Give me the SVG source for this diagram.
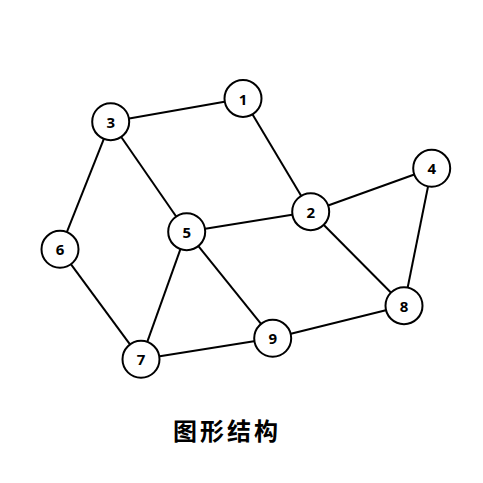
<svg xmlns="http://www.w3.org/2000/svg" width="483" height="483" viewBox="0 0 483 483">
<style>
.edge{stroke:#000;stroke-width:2;fill:none}
.node circle{fill:#fff;stroke:#000;stroke-width:2}
.node text{font-family:"Open Sans","DejaVu Sans",sans-serif;font-weight:bold;font-size:15px;text-anchor:middle;dominant-baseline:central;fill:#000}
.title{font-family:"Noto Sans CJK SC",sans-serif;font-weight:bold;font-size:24px;text-anchor:middle;fill:#000;letter-spacing:3px}
</style>
<rect width="483" height="483" fill="#fff"/>
<g id="edges">
<line class="edge" x1="243" y1="98.5" x2="110.7" y2="121.7"/>
<line class="edge" x1="243" y1="98.5" x2="310.7" y2="211.7"/>
<line class="edge" x1="110.7" y1="121.7" x2="60" y2="249.3"/>
<line class="edge" x1="110.7" y1="121.7" x2="186.7" y2="231.7"/>
<line class="edge" x1="310.7" y1="211.7" x2="186.7" y2="231.7"/>
<line class="edge" x1="310.7" y1="211.7" x2="431.7" y2="168.3"/>
<line class="edge" x1="310.7" y1="211.7" x2="404" y2="305.7"/>
<line class="edge" x1="431.7" y1="168.3" x2="404" y2="305.7"/>
<line class="edge" x1="186.7" y1="231.7" x2="141" y2="359.3"/>
<line class="edge" x1="186.7" y1="231.7" x2="272.7" y2="338.3"/>
<line class="edge" x1="60" y1="249.3" x2="141" y2="359.3"/>
<line class="edge" x1="141" y1="359.3" x2="272.7" y2="338.3"/>
<line class="edge" x1="272.7" y1="338.3" x2="404" y2="305.7"/>
</g>
<g id="node1" class="node"><circle cx="243" cy="98.5" r="18.5"/><text x="243" y="98.5">1</text></g>
<g id="node2" class="node"><circle cx="310.7" cy="211.7" r="18.5"/><text x="310.7" y="211.7">2</text></g>
<g id="node3" class="node"><circle cx="110.7" cy="121.7" r="18.5"/><text x="110.7" y="121.7">3</text></g>
<g id="node4" class="node"><circle cx="431.7" cy="168.3" r="18.5"/><text x="431.7" y="168.3">4</text></g>
<g id="node5" class="node"><circle cx="186.7" cy="231.7" r="18.5"/><text x="186.7" y="231.7">5</text></g>
<g id="node6" class="node"><circle cx="60" cy="249.3" r="18.5"/><text x="60" y="249.3">6</text></g>
<g id="node7" class="node"><circle cx="141" cy="359.3" r="18.5"/><text x="141" y="359.3">7</text></g>
<g id="node8" class="node"><circle cx="404" cy="305.7" r="18.5"/><text x="404" y="305.7">8</text></g>
<g id="node9" class="node"><circle cx="272.7" cy="338.3" r="18.5"/><text x="272.7" y="338.3">9</text></g>
<text class="title" x="227" y="440">图形结构</text>
</svg>
